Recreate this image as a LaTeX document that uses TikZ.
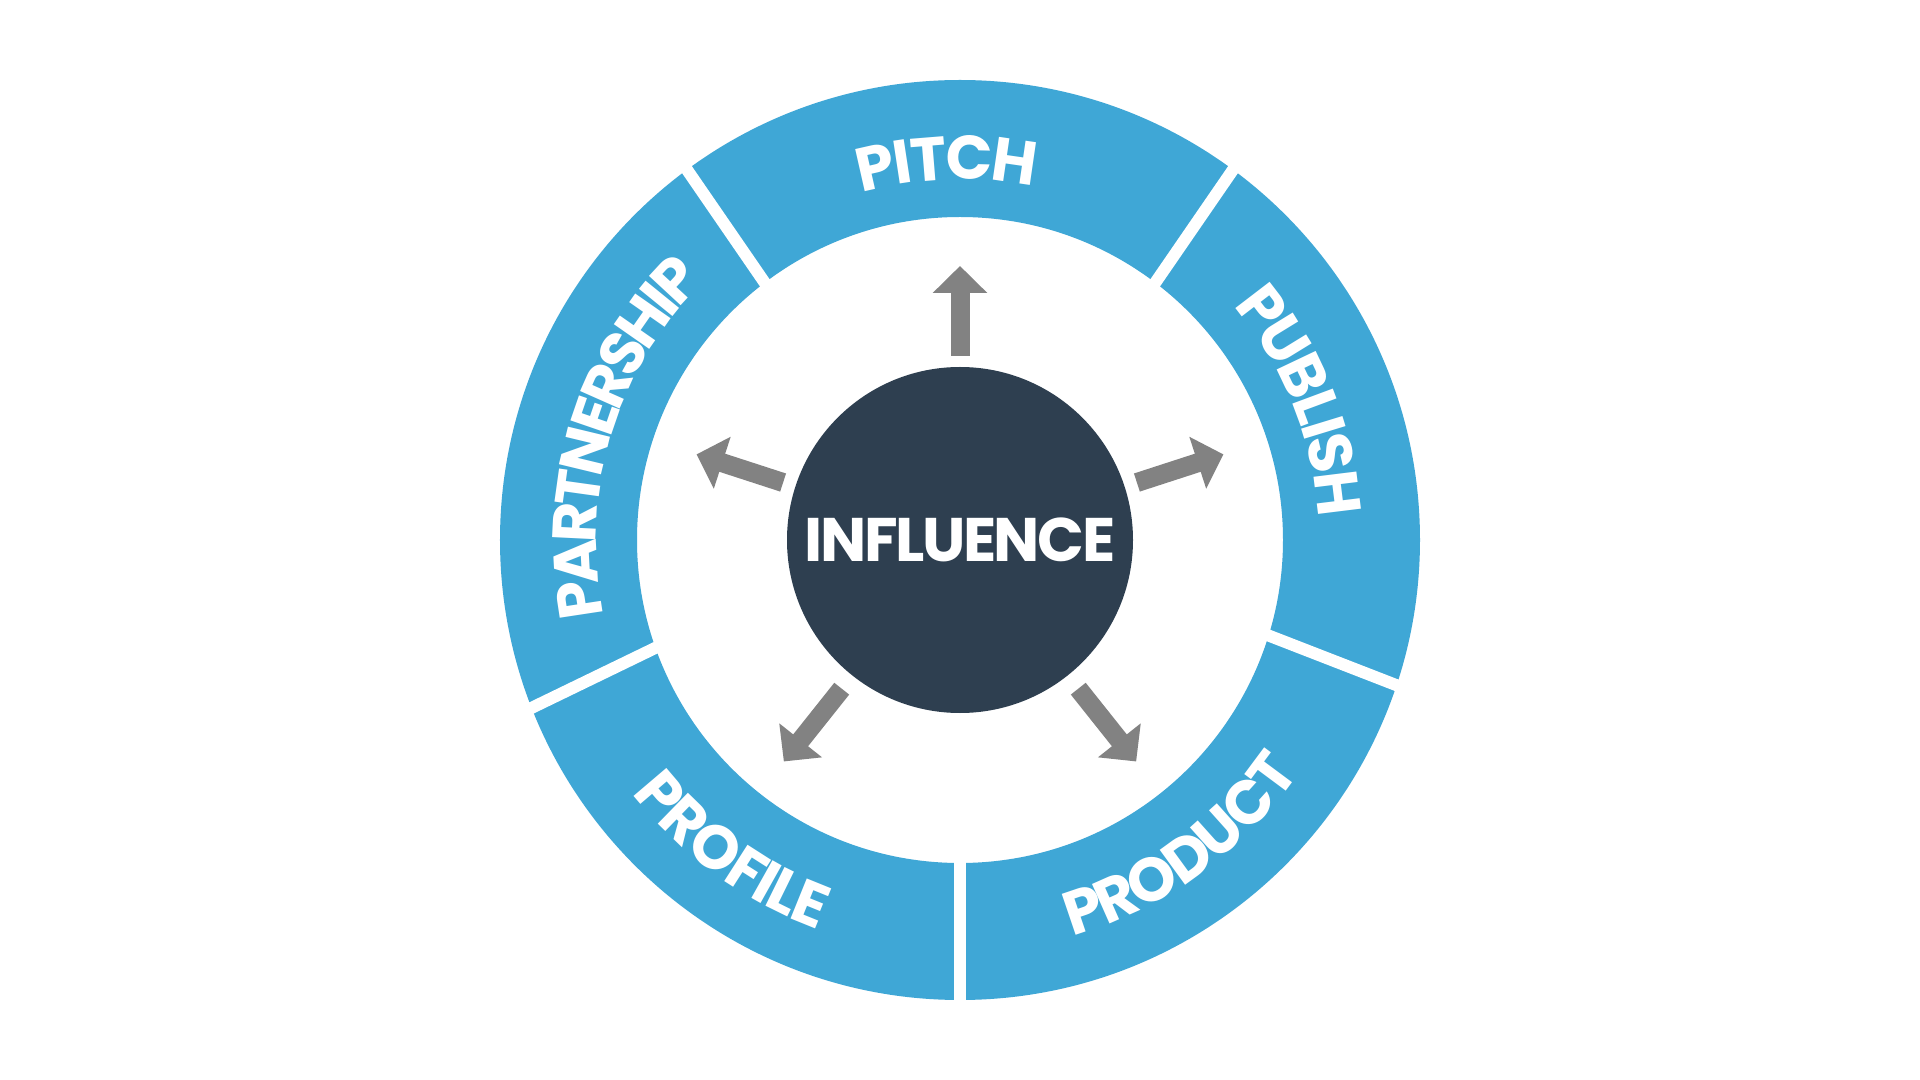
\documentclass[tikz,border=0pt]{standalone}
\usepackage{fontspec}
\newfontfamily\pop{Poppins}[LetterSpace=-4]
\usetikzlibrary{decorations.text,arrows.meta,calc}
\definecolor{ringblue}{HTML}{3FA7D6}
\definecolor{hub}{HTML}{2E3F50}
\definecolor{arrgray}{HTML}{828282}
\tikzset{
  arr/.style={draw=arrgray, line width=0.19cm, -{Triangle[width=0.53cm,length=0.27cm]}},
  gapline/.style={draw=white, line width=0.12cm},
  ringtext/.style 2 args={decorate, decoration={text along path, text align=center, raise=-0.215cm, text color=white,
     text={|\pop\bfseries\fontsize{17.5}{20}\selectfont\kern#2|#1}}}
}
\begin{document}
\begin{tikzpicture}
\useasboundingbox[fill=white] (-9.6,-5.4) rectangle (9.6,5.4);
% ring
\fill[ringblue,even odd rule] (0,0) circle (4.6) (0,0) circle (3.23);
% gaps
\foreach \n/\ai/\ao in {a/-17.2/-18.4, b/199.5/201.4, c/127.2/126.4, d/52.8/53.6, e/270/270}{
  \coordinate (gi\n) at (\ai:3.23);
  \coordinate (go\n) at (\ao:4.6);
  \draw[gapline] ($(gi\n)!-0.15!(go\n)$) -- ($(gi\n)!1.15!(go\n)$);
}
% ring texts
\path[ringtext={PITCH}{-0.2pt}] (142:3.82) arc[start angle=142, end angle=42, radius=3.82];
\path[ringtext={PUBLISH}{-0.4pt}] (72:3.81) arc[start angle=72, end angle=-28, radius=3.81];
\path[ringtext={PARTNERSHIP}{-1pt}] (223:3.85) arc[start angle=223, end angle=103, radius=3.85];
\path[ringtext={PROFILE}{-0.8pt}] (184:3.93) arc[start angle=184, end angle=284, radius=3.93];
\path[ringtext={PRODUCT}{-1.2pt}] (-104:3.90) arc[start angle=-104, end angle=-4, radius=3.90];
% hub
\node[circle, fill=hub, minimum size=3.46cm, inner sep=0pt, text=white,
      font=\pop\bfseries\fontsize{17.5}{20}\selectfont] (infl) at (0,0) {INFLUENCE};
% arrows
\foreach \n/\a/\s/\r in {up/90/1.84/2.74, ri/18/1.86/2.77, le/162/1.86/2.77, br/-51.5/1.90/2.83, bl/231.5/1.90/2.83}{
  \coordinate (s\n) at ($(infl.center)+(\a:\s)$);
  \coordinate (t\n) at ($(infl.center)+(\a:\r)$);
  \draw[arr] (s\n) -- (t\n);
}
\end{tikzpicture}
\end{document}
